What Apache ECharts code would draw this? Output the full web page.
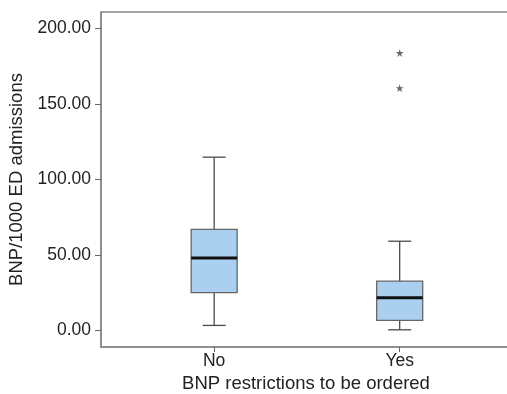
<!DOCTYPE html>
<html>
<head>
<meta charset="utf-8">
<script src="https://cdn.jsdelivr.net/npm/echarts@6/dist/echarts.min.js"></script>
<style>
    html, body { margin: 0; padding: 0; background: #fff; }
    #chart { width: 507px; height: 394px; }
</style>
</head>
<body>
<div id="chart"></div>
<script>
// groups on the x axis (positions 1, 2)
var categories = ['No', 'Yes']
var whiskerLow = [3.3, 0.4]
var q1 = [25.0, 6.6]
var median = [48.0, 21.7]
var q3 = [66.9, 32.6]
var whiskerHigh = [114.8, 59.1]
// outliers (asterisks)
var outlierGroup = ['Yes', 'Yes']
var outlierValues = [183.9, 160.6]
var yTicks = [0, 50, 100, 150, 200]

var boxData = categories.map(function (c, i) {
    return [i + 1, whiskerLow[i], q1[i], median[i], q3[i], whiskerHigh[i]]
})
var outlierData = outlierValues.map(function (v, i) {
    return [categories.indexOf(outlierGroup[i]) + 1, v]
})

var chart = echarts.init(document.getElementById('chart'))

function renderBox(params, api) {
    var x = api.value(0)
    var halfBox = 0.124
    var halfCap = 0.062
    var pLow = api.coord([x, api.value(1)])
    var pQ1 = api.coord([x, api.value(2)])
    var pQ3 = api.coord([x, api.value(4)])
    var pHigh = api.coord([x, api.value(5)])
    var left = api.coord([x - halfBox, api.value(3)])
    var right = api.coord([x + halfBox, api.value(3)])
    var capL = api.coord([x - halfCap, 0])[0]
    var capR = api.coord([x + halfCap, 0])[0]
    var line = { stroke: '#4a4a4a', lineWidth: 1.3 }
    return {
        type: 'group',
        children: [
            { type: 'line', shape: { x1: pLow[0], y1: pLow[1], x2: pQ1[0], y2: pQ1[1] }, style: line },
            { type: 'line', shape: { x1: pQ3[0], y1: pQ3[1], x2: pHigh[0], y2: pHigh[1] }, style: line },
            { type: 'line', shape: { x1: capL, y1: pLow[1], x2: capR, y2: pLow[1] }, style: line },
            { type: 'line', shape: { x1: capL, y1: pHigh[1], x2: capR, y2: pHigh[1] }, style: line },
            {
                type: 'rect',
                shape: { x: left[0], y: pQ3[1], width: right[0] - left[0], height: pQ1[1] - pQ3[1] },
                style: { fill: '#abcfee', stroke: '#666', lineWidth: 1.3 }
            },
            {
                type: 'line',
                shape: { x1: left[0], y1: left[1], x2: right[0], y2: right[1] },
                style: { stroke: '#111', lineWidth: 3 }
            }
        ]
    }
}

chart.setOption({
    animation: false,
    backgroundColor: '#fff',
    grid: {
        left: 101,
        right: -4,
        top: 12,
        bottom: 47,
        outerBoundsMode: 'none',
        containLabel: false,
        show: true,
        borderColor: '#888',
        borderWidth: 1.5,
        backgroundColor: 'transparent'
    },
    xAxis: {
        type: 'value',
        min: 0.39,
        max: 2.6,
        name: 'BNP restrictions to be ordered',
        nameLocation: 'middle',
        nameGap: 24,
        nameTextStyle: { fontFamily: 'Liberation Sans', fontSize: 18.5, color: '#222' },
        axisLine: { show: true, onZero: false, lineStyle: { color: '#888', width: 1.5 } },
        axisTick: { show: true, length: 5, customValues: [1, 2], lineStyle: { color: '#666' } },
        axisLabel: {
            customValues: [1, 2],
            margin: 5,
            fontFamily: 'Liberation Sans',
            fontSize: 17.5,
            color: '#222',
            formatter: function (v) { return categories[Math.round(v) - 1] || '' }
        },
        splitLine: { show: false }
    },
    yAxis: {
        type: 'value',
        min: -11,
        max: 211,
        name: 'BNP/1000 ED admissions',
        nameLocation: 'middle',
        nameGap: 73,
        nameTextStyle: { fontFamily: 'Liberation Sans', fontSize: 18.5, color: '#222' },
        axisLine: { show: true, onZero: false, lineStyle: { color: '#888', width: 1.5 } },
        axisTick: { show: true, length: 6, customValues: yTicks, lineStyle: { color: '#666' } },
        axisLabel: {
            customValues: yTicks,
            margin: 10,
            fontFamily: 'Liberation Sans',
            fontSize: 17.5,
            color: '#222',
            formatter: function (v) { return v.toFixed(2) }
        },
        splitLine: { show: false }
    },
    series: [
        {
            type: 'custom',
            renderItem: renderBox,
            data: boxData,
            encode: { x: 0, y: [1, 2, 3, 4, 5] },
            z: 3
        },
        {
            type: 'scatter',
            data: outlierData,
            symbol: 'path://M50,0 L61,35 L98,35 L68,57 L79,91 L50,70 L21,91 L32,57 L2,35 L39,35 Z',
            symbolSize: 8,
            itemStyle: { color: '#444' },
            z: 4
        }
    ]
})
</script>
</body>
</html>
